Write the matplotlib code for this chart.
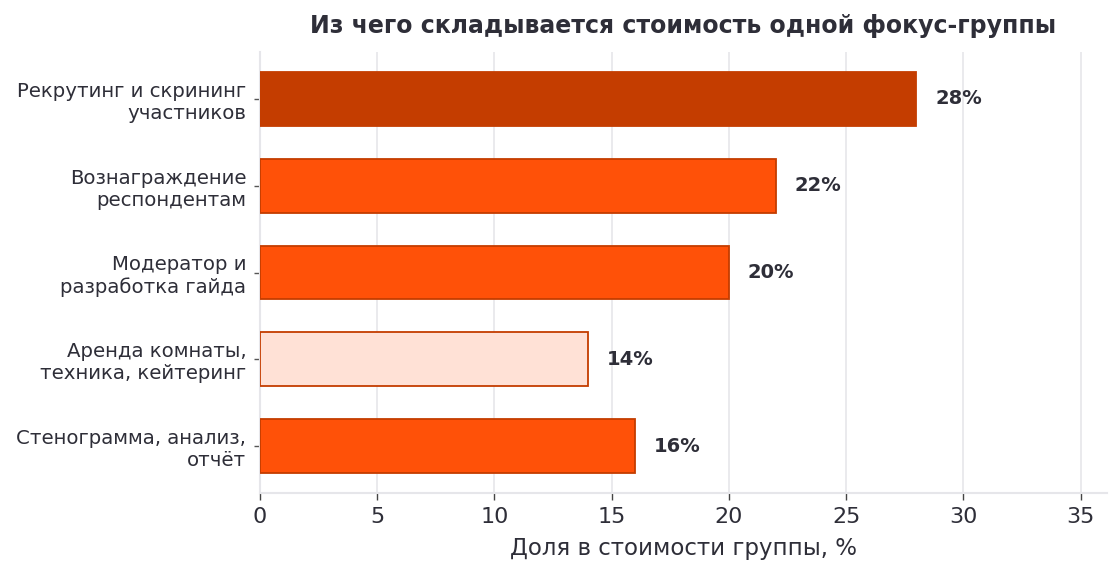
import numpy as np
import matplotlib.pyplot as plt

categories = ["Рекрутинг и скрининг\nучастников",
              "Вознаграждение\nреспондентам",
              "Модератор и\nразработка гайда",
              "Аренда комнаты,\nтехника, кейтеринг",
              "Стенограмма, анализ,\nотчёт"]
shares = [28, 22, 20, 14, 16]
colors = ["#C43D00", "#FF5108", "#FF5108", "#FFE1D6", "#FF5108"]

text_col = "#2E2E38"
grid_col = "#E6E6EA"

fig, ax = plt.subplots(figsize=(11.18, 5.72), dpi=100)
fig.subplots_adjust(left=0.2326, right=0.990, top=0.909, bottom=0.138)

y = np.arange(len(categories))
ax.barh(y, shares, height=0.62, color=colors, edgecolor="#C43D00", linewidth=1.3, zorder=3)
ax.invert_yaxis()
ax.set_yticks(y)
ax.set_yticklabels(categories, fontsize=14.2, color=text_col)
ax.set_xlim(0, max(shares) * 1.29)
ax.set_xticks(np.arange(0, 36, 5))
ax.tick_params(axis="x", labelsize=16, colors=text_col, length=5, width=1,
               color="#444444", pad=5)
ax.tick_params(axis="y", length=4, width=1, color="#555555", pad=6)

for yi, v in zip(y, shares):
    ax.text(v + 0.8, yi, f"{v}%", va="center", ha="left", fontsize=14,
            fontweight="bold", color=text_col)

ax.grid(axis="x", color=grid_col, linewidth=1.2, zorder=0)
for s in ["top", "right"]:
    ax.spines[s].set_visible(False)
for s in ["left", "bottom"]:
    ax.spines[s].set_color(grid_col)
    ax.spines[s].set_linewidth(1.5)

ax.set_xlabel("Доля в стоимости группы, %", fontsize=16.5, color=text_col, labelpad=7)
ax.set_title("Из чего складывается стоимость одной фокус-группы", fontsize=17,
             fontweight="bold", color=text_col, pad=14)

fig.savefig("out.png", dpi=100)
